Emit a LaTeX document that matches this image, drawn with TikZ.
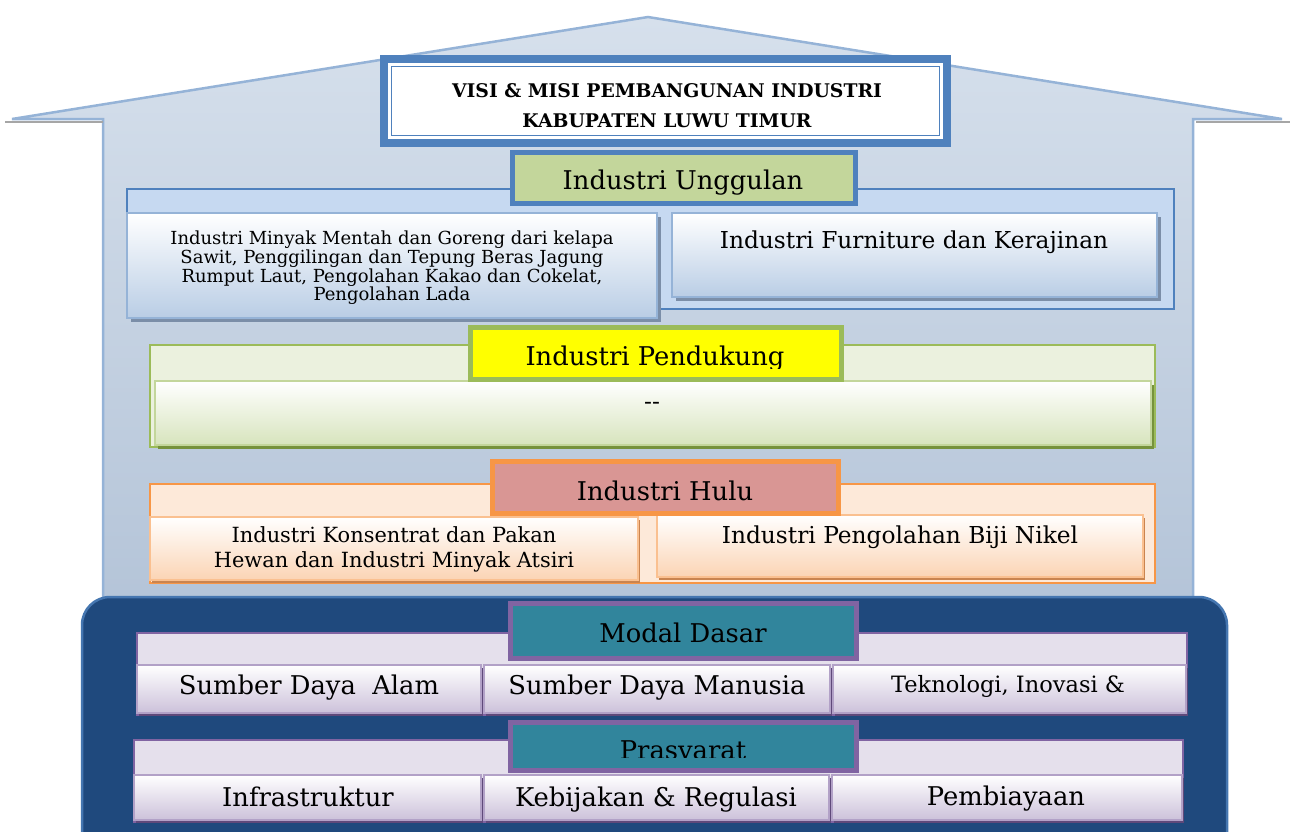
\documentclass[tikz,border=0pt]{standalone}
\usepackage{fontspec}
\setmainfont{DejaVu Serif}
\usetikzlibrary{shadows}
\definecolor{houseA}{HTML}{D6E0EC}
\definecolor{houseB}{HTML}{B4C4D8}
\definecolor{houseLine}{HTML}{95B3D7}
\definecolor{blueA}{HTML}{4F81BD}
\definecolor{navy}{HTML}{1F497D}
\definecolor{ungCont}{HTML}{C6D9F1}
\definecolor{ungLab}{HTML}{C3D69B}
\definecolor{ungSubB}{HTML}{B9CDE5}
\definecolor{ungShadow}{HTML}{7B8EA8}
\definecolor{penCont}{HTML}{EBF1DE}
\definecolor{penLine}{HTML}{9BBB59}
\definecolor{penYellow}{HTML}{FFFF00}
\definecolor{penSubB}{HTML}{D7E4BD}
\definecolor{penSubLine}{HTML}{C3D69B}
\definecolor{penShadow}{HTML}{76923C}
\definecolor{huluCont}{HTML}{FDE9D9}
\definecolor{huluLine}{HTML}{F79646}
\definecolor{huluLab}{HTML}{D99694}
\definecolor{huluSubB}{HTML}{FBD4B4}
\definecolor{huluSubLine}{HTML}{FAC090}
\definecolor{huluShadow}{HTML}{C98450}
\definecolor{modCont}{HTML}{E5E0EC}
\definecolor{purp}{HTML}{8064A2}
\definecolor{teal}{HTML}{31859C}
\definecolor{modSubB}{HTML}{CCC1DA}
\definecolor{modSubLine}{HTML}{B2A1C7}
\definecolor{modShadow}{HTML}{5F497A}
\tikzset{
  box/.style={anchor=north west, inner sep=0pt, outer sep=0pt},
  txt/.style={inner sep=0pt, anchor=base, font=\fontsize{23.3}{27}\selectfont},
  labtxt/.style={inner sep=0pt, anchor=base, font=\fontsize{25.8}{30}\selectfont},
  smalltxt/.style={inner sep=0pt, align=center, font=\fontsize{18}{17}\selectfont},
  titletxt/.style={inner sep=0pt, anchor=base, font=\fontsize{18.8}{22}\selectfont\bfseries},
  ungcont/.style={box, fill=ungCont, draw=blueA, line width=2pt},
  unglab/.style={box, fill=ungLab, draw=blueA, line width=5pt},
  ungsub/.style={box, top color=white, bottom color=ungSubB, draw=houseLine, line width=2pt,
    general shadow={shadow xshift=4pt, shadow yshift=-4pt, fill=ungShadow}},
  pencont/.style={box, fill=penCont, draw=penLine, line width=2pt},
  penlab/.style={box, fill=penYellow, draw=penLine, line width=5pt},
  pensub/.style={box, top color=white, bottom color=penSubB, draw=penSubLine, line width=2pt,
    general shadow={shadow xshift=3pt, shadow yshift=-4pt, fill=penShadow}},
  hulucont/.style={box, fill=huluCont, draw=huluLine, line width=2pt},
  hululab/.style={box, fill=huluLab, draw=huluLine, line width=5pt},
  hulusub/.style={box, top color=white, bottom color=huluSubB, draw=huluSubLine, line width=2pt,
    general shadow={shadow xshift=2pt, shadow yshift=-3pt, fill=huluShadow}},
  modcont/.style={box, fill=modCont, draw=purp, line width=2pt},
  modlab/.style={box, fill=teal, draw=purp, line width=5pt},
  modsub/.style={box, top color=white, bottom color=modSubB, draw=modSubLine, line width=2pt,
    general shadow={shadow xshift=2pt, shadow yshift=-3pt, fill=modShadow}},
}
\begin{document}
\begin{tikzpicture}[x=1pt,y=-1pt]
\useasboundingbox (0,0) rectangle (1301,831);
% house
\draw[houseLine, line width=2.5pt, top color=houseA, bottom color=houseB]
  (12,119) -- (648,17) -- (1282,119) -- (1193,119) -- (1193,610) -- (103,610) -- (103,119) -- cycle;
\draw[gray!70, line width=2pt] (5,122) -- (103,122);
\draw[gray!70, line width=2pt] (1196,122) -- (1290,122);
% base
\draw[blueA!80!navy, line width=2.5pt, fill=navy, rounded corners=28pt]
  (82,850) -- (82,597) -- (1227,597) -- (1227,850);
% title
\node[box, fill=blueA, minimum width=571pt, minimum height=92pt] (titleout) at (380,55) {};
\node[box, fill=white, minimum width=555pt, minimum height=76pt] (titlein) at (388,63) {};
\node[box, draw=blueA, line width=1.5pt, minimum width=548pt, minimum height=69pt] (titleline) at (391.5,66.5) {};
\node[titletxt] (title1) at (667,97) {VISI \& MISI PEMBANGUNAN INDUSTRI};
\node[titletxt] (title2) at (667,127) {KABUPATEN LUWU TIMUR};
% Unggulan
\node[ungcont, minimum width=1047pt, minimum height=120pt] (ungc) at (127,189) {};
\node[ungsub, minimum width=530pt, minimum height=105pt] (ung1) at (127,213) {};
\node[ungsub, minimum width=485pt, minimum height=84pt] (ung2) at (672,213) {};
\node[unglab, minimum width=343pt, minimum height=51pt] (ungl) at (512,152) {};
\begin{scope}
\clip (512,152) rectangle (855,194);
\node[labtxt] (ungt) at (683,189) {Industri Unggulan};
\end{scope}
\node[smalltxt] (ung1t) at (392,268) {Industri Minyak Mentah dan Goreng dari kelapa\\Sawit, Penggilingan dan Tepung Beras Jagung\\Rumput Laut, Pengolahan Kakao dan Cokelat,\\Pengolahan Lada};
\node[txt] (ung2t) at (914,248) {Industri Furniture dan Kerajinan};
% Pendukung
\node[pencont, minimum width=1005pt, minimum height=102pt] (penc) at (150,345) {};
\node[pensub, minimum width=996pt, minimum height=64pt] (pen1) at (155,381) {};
\node[penlab, minimum width=371pt, minimum height=52pt] (penl) at (470,327) {};
\begin{scope}
\clip (470,327) rectangle (841,368);
\node[labtxt] (pent) at (655,365) {Industri Pendukung};
\end{scope}
\node[txt] (pen1t) at (652,409) {-{}-};
% Hulu
\node[hulucont, minimum width=1005pt, minimum height=99pt] (huluc) at (150,484) {};
\node[hulusub, minimum width=488pt, minimum height=63pt] (hulu1) at (150,517) {};
\node[hulusub, minimum width=486pt, minimum height=62pt] (hulu2) at (657,515) {};
\node[hululab, minimum width=346pt, minimum height=52pt] (hulul) at (492,461) {};
\node[labtxt] (hulut) at (665,500) {Industri Hulu};
\node[inner sep=0pt, anchor=base, font=\fontsize{20.9}{25}\selectfont] (hulu1a) at (394,542) {Industri Konsentrat dan Pakan};
\node[inner sep=0pt, anchor=base, font=\fontsize{20.9}{25}\selectfont] (hulu1b) at (394,567) {Hewan dan Industri Minyak Atsiri};
\node[txt] (hulu2t) at (900,543) {Industri Pengolahan Biji Nikel};
% Modal Dasar
\node[modcont, minimum width=1050pt, minimum height=82pt] (modc) at (137,633) {};
\node[modsub, minimum width=344pt, minimum height=48pt] (mod1) at (137,665) {};
\node[modsub, minimum width=346pt, minimum height=48pt] (mod2) at (484,665) {};
\node[modsub, minimum width=353pt, minimum height=48pt] (mod3) at (833,665) {};
\node[modlab, minimum width=346pt, minimum height=55pt] (modl) at (510,603) {};
\node[labtxt] (modt) at (683,642) {Modal Dasar};
\node[labtxt] (mod1t) at (309,694) {Sumber Daya\ \ Alam};
\node[labtxt] (mod2t) at (657,694) {Sumber Daya Manusia};
\node[inner sep=0pt, anchor=base, font=\fontsize{22.5}{26}\selectfont] (mod3t) at (1008,692) {Teknologi, Inovasi \&};
% Prasyarat
\node[modcont, minimum width=1049pt, minimum height=82pt] (prac) at (134,740) {};
\node[modsub, minimum width=347pt, minimum height=45pt] (pra1) at (134,775) {};
\node[modsub, minimum width=345pt, minimum height=45pt] (pra2) at (484,775) {};
\node[modsub, minimum width=350pt, minimum height=45pt] (pra3) at (832,775) {};
\node[modlab, minimum width=346pt, minimum height=48pt] (pral) at (510,722) {};
\begin{scope}
\clip (510,722) rectangle (856,757);
\node[labtxt] (prat) at (683,759) {Prasyarat};
\end{scope}
\node[labtxt] (pra1t) at (308,806) {Infrastruktur};
\node[labtxt] (pra2t) at (656,806) {Kebijakan \& Regulasi};
\node[labtxt] (pra3t) at (1006,805) {Pembiayaan};
\end{tikzpicture}
\end{document}
